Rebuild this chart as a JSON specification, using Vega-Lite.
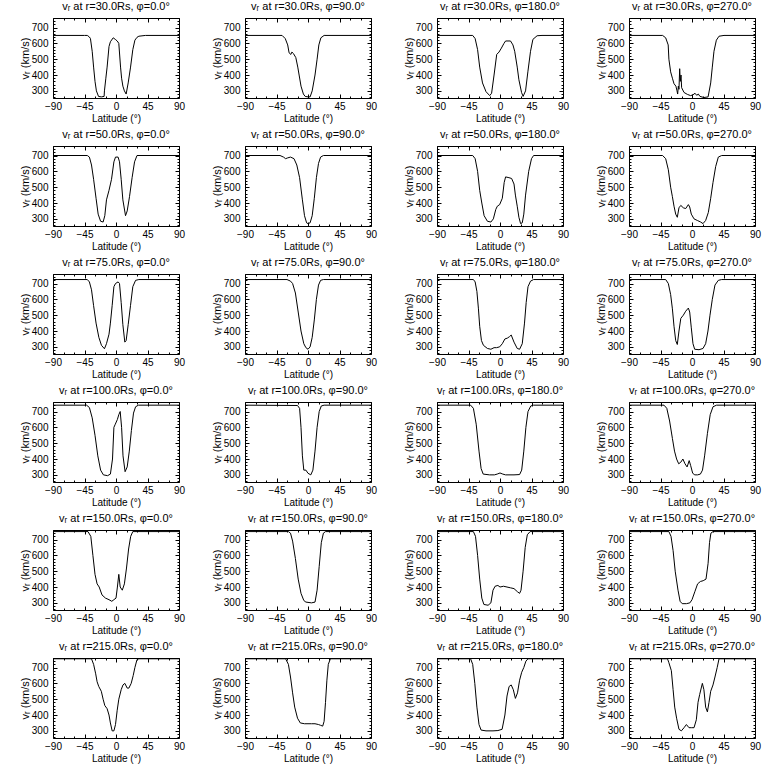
{
"$schema": "https://vega.github.io/schema/vega-lite/v6.json",
"background": "white",
"padding": {"left": 18, "top": 0, "right": 5, "bottom": 5},
"bounds": "flush",
"columns": 4,
"spacing": {"row": 48, "column": 66},
"data": {"values": [
{"p":0,"lat":-90,"v":650},{"p":0,"lat":-45,"v":650},{"p":0,"lat":-41,"v":650},{"p":0,"lat":-38,"v":640},{"p":0,"lat":-36.5,"v":630},{"p":0,"lat":-34,"v":550},{"p":0,"lat":-32,"v":450},{"p":0,"lat":-30,"v":360},{"p":0,"lat":-28,"v":300},{"p":0,"lat":-25,"v":265},{"p":0,"lat":-21,"v":262},{"p":0,"lat":-17,"v":265},{"p":0,"lat":-16.5,"v":300},{"p":0,"lat":-14.5,"v":380},{"p":0,"lat":-12.7,"v":450},{"p":0,"lat":-10,"v":580},{"p":0,"lat":-8,"v":610},{"p":0,"lat":-4,"v":635},{"p":0,"lat":-1,"v":625},{"p":0,"lat":1.7,"v":615},{"p":0,"lat":4,"v":600},{"p":0,"lat":6.5,"v":450},{"p":0,"lat":8,"v":380},{"p":0,"lat":9.8,"v":330},{"p":0,"lat":12,"v":300},{"p":0,"lat":14.5,"v":280},{"p":0,"lat":17.4,"v":350},{"p":0,"lat":20.8,"v":450},{"p":0,"lat":24,"v":560},{"p":0,"lat":27,"v":620},{"p":0,"lat":30,"v":638},{"p":0,"lat":32.7,"v":645},{"p":0,"lat":42,"v":650},{"p":0,"lat":90,"v":650},
{"p":1,"lat":-90,"v":650},{"p":1,"lat":-37,"v":650},{"p":1,"lat":-32.5,"v":630},{"p":1,"lat":-29,"v":590},{"p":1,"lat":-27,"v":540},{"p":1,"lat":-24.5,"v":530},{"p":1,"lat":-23,"v":545},{"p":1,"lat":-20.7,"v":535},{"p":1,"lat":-17.4,"v":510},{"p":1,"lat":-14.6,"v":450},{"p":1,"lat":-12.7,"v":400},{"p":1,"lat":-10,"v":330},{"p":1,"lat":-6.6,"v":280},{"p":1,"lat":-4,"v":265},{"p":1,"lat":0,"v":262},{"p":1,"lat":3,"v":262},{"p":1,"lat":6,"v":300},{"p":1,"lat":10,"v":400},{"p":1,"lat":13,"v":500},{"p":1,"lat":15.5,"v":590},{"p":1,"lat":18.4,"v":635},{"p":1,"lat":23,"v":650},{"p":1,"lat":90,"v":650},
{"p":2,"lat":-90,"v":650},{"p":2,"lat":-39,"v":650},{"p":2,"lat":-35.5,"v":630},{"p":2,"lat":-32,"v":560},{"p":2,"lat":-29,"v":450},{"p":2,"lat":-25,"v":350},{"p":2,"lat":-20,"v":295},{"p":2,"lat":-14.7,"v":270},{"p":2,"lat":-12,"v":285},{"p":2,"lat":-8.5,"v":400},{"p":2,"lat":-4.7,"v":530},{"p":2,"lat":-1.4,"v":545},{"p":2,"lat":2,"v":570},{"p":2,"lat":5.7,"v":600},{"p":2,"lat":8,"v":615},{"p":2,"lat":15,"v":615},{"p":2,"lat":18.5,"v":590},{"p":2,"lat":21,"v":550},{"p":2,"lat":24.6,"v":450},{"p":2,"lat":27,"v":370},{"p":2,"lat":30.8,"v":290},{"p":2,"lat":33,"v":265},{"p":2,"lat":36.5,"v":300},{"p":2,"lat":39.8,"v":420},{"p":2,"lat":43.6,"v":550},{"p":2,"lat":47,"v":625},{"p":2,"lat":53,"v":648},{"p":2,"lat":60,"v":650},{"p":2,"lat":90,"v":650},
{"p":3,"lat":-90,"v":650},{"p":3,"lat":-42,"v":650},{"p":3,"lat":-37.6,"v":635},{"p":3,"lat":-34,"v":590},{"p":3,"lat":-33,"v":500},{"p":3,"lat":-30.5,"v":420},{"p":3,"lat":-28,"v":380},{"p":3,"lat":-25.7,"v":345},{"p":3,"lat":-23,"v":330},{"p":3,"lat":-21.4,"v":300},{"p":3,"lat":-20.5,"v":280},{"p":3,"lat":-19.5,"v":330},{"p":3,"lat":-18.6,"v":310},{"p":3,"lat":-17.6,"v":440},{"p":3,"lat":-16.7,"v":360},{"p":3,"lat":-15.7,"v":400},{"p":3,"lat":-14.8,"v":320},{"p":3,"lat":-11.4,"v":290},{"p":3,"lat":-6.7,"v":278},{"p":3,"lat":-2,"v":270},{"p":3,"lat":1.4,"v":275},{"p":3,"lat":4.3,"v":285},{"p":3,"lat":6.7,"v":272},{"p":3,"lat":9,"v":280},{"p":3,"lat":11.4,"v":265},{"p":3,"lat":17,"v":258},{"p":3,"lat":23,"v":262},{"p":3,"lat":26.7,"v":350},{"p":3,"lat":29,"v":450},{"p":3,"lat":31.4,"v":550},{"p":3,"lat":34.8,"v":620},{"p":3,"lat":38.6,"v":645},{"p":3,"lat":45.7,"v":650},{"p":3,"lat":90,"v":650},
{"p":4,"lat":-90,"v":700},{"p":4,"lat":-41,"v":700},{"p":4,"lat":-38,"v":690},{"p":4,"lat":-35,"v":640},{"p":4,"lat":-32,"v":550},{"p":4,"lat":-28.5,"v":430},{"p":4,"lat":-25.5,"v":330},{"p":4,"lat":-22,"v":285},{"p":4,"lat":-18.4,"v":280},{"p":4,"lat":-16,"v":320},{"p":4,"lat":-13.6,"v":420},{"p":4,"lat":-10,"v":480},{"p":4,"lat":-6.4,"v":550},{"p":4,"lat":-3,"v":660},{"p":4,"lat":-0.7,"v":690},{"p":4,"lat":3,"v":690},{"p":4,"lat":5,"v":660},{"p":4,"lat":7.4,"v":550},{"p":4,"lat":9.8,"v":420},{"p":4,"lat":13.6,"v":320},{"p":4,"lat":16,"v":350},{"p":4,"lat":19.3,"v":440},{"p":4,"lat":23,"v":560},{"p":4,"lat":26.5,"v":660},{"p":4,"lat":30,"v":700},{"p":4,"lat":90,"v":700},
{"p":5,"lat":-90,"v":700},{"p":5,"lat":-40,"v":700},{"p":5,"lat":-35,"v":690},{"p":5,"lat":-32,"v":680},{"p":5,"lat":-29,"v":685},{"p":5,"lat":-25,"v":690},{"p":5,"lat":-20,"v":680},{"p":5,"lat":-16,"v":640},{"p":5,"lat":-12,"v":560},{"p":5,"lat":-8,"v":420},{"p":5,"lat":-5,"v":320},{"p":5,"lat":-2,"v":275},{"p":5,"lat":0,"v":270},{"p":5,"lat":3,"v":275},{"p":5,"lat":6,"v":320},{"p":5,"lat":9,"v":430},{"p":5,"lat":12,"v":560},{"p":5,"lat":15,"v":650},{"p":5,"lat":18,"v":690},{"p":5,"lat":22,"v":700},{"p":5,"lat":90,"v":700},
{"p":6,"lat":-90,"v":700},{"p":6,"lat":-39,"v":700},{"p":6,"lat":-35.5,"v":680},{"p":6,"lat":-32,"v":600},{"p":6,"lat":-29,"v":480},{"p":6,"lat":-26,"v":400},{"p":6,"lat":-22.7,"v":320},{"p":6,"lat":-18,"v":285},{"p":6,"lat":-13,"v":280},{"p":6,"lat":-9.5,"v":300},{"p":6,"lat":-6,"v":360},{"p":6,"lat":-3.8,"v":380},{"p":6,"lat":-0.5,"v":390},{"p":6,"lat":3.3,"v":430},{"p":6,"lat":6,"v":530},{"p":6,"lat":8,"v":565},{"p":6,"lat":12.8,"v":560},{"p":6,"lat":16.6,"v":555},{"p":6,"lat":20,"v":520},{"p":6,"lat":22,"v":450},{"p":6,"lat":24.6,"v":380},{"p":6,"lat":27,"v":310},{"p":6,"lat":29.4,"v":270},{"p":6,"lat":31.8,"v":275},{"p":6,"lat":34,"v":330},{"p":6,"lat":36.5,"v":450},{"p":6,"lat":41,"v":600},{"p":6,"lat":45,"v":680},{"p":6,"lat":48,"v":700},{"p":6,"lat":90,"v":700},
{"p":7,"lat":-90,"v":700},{"p":7,"lat":-42,"v":700},{"p":7,"lat":-37.6,"v":680},{"p":7,"lat":-33.8,"v":610},{"p":7,"lat":-30.5,"v":500},{"p":7,"lat":-28,"v":440},{"p":7,"lat":-25.7,"v":380},{"p":7,"lat":-23.3,"v":330},{"p":7,"lat":-21,"v":310},{"p":7,"lat":-18.6,"v":370},{"p":7,"lat":-16,"v":385},{"p":7,"lat":-12.4,"v":370},{"p":7,"lat":-9,"v":365},{"p":7,"lat":-5.2,"v":390},{"p":7,"lat":-3.3,"v":375},{"p":7,"lat":-1,"v":330},{"p":7,"lat":2.9,"v":300},{"p":7,"lat":7.6,"v":290},{"p":7,"lat":12.4,"v":280},{"p":7,"lat":15.7,"v":270},{"p":7,"lat":19.5,"v":290},{"p":7,"lat":23.3,"v":340},{"p":7,"lat":26.7,"v":430},{"p":7,"lat":30,"v":530},{"p":7,"lat":33.8,"v":630},{"p":7,"lat":37.6,"v":690},{"p":7,"lat":42.4,"v":700},{"p":7,"lat":90,"v":700},
{"p":8,"lat":-90,"v":725},{"p":8,"lat":-41,"v":725},{"p":8,"lat":-38,"v":710},{"p":8,"lat":-35,"v":660},{"p":8,"lat":-32,"v":560},{"p":8,"lat":-28.5,"v":450},{"p":8,"lat":-24.5,"v":360},{"p":8,"lat":-20.8,"v":310},{"p":8,"lat":-16.5,"v":288},{"p":8,"lat":-13.6,"v":320},{"p":8,"lat":-10,"v":380},{"p":8,"lat":-8,"v":450},{"p":8,"lat":-5.5,"v":560},{"p":8,"lat":-3,"v":680},{"p":8,"lat":-0.7,"v":700},{"p":8,"lat":3,"v":710},{"p":8,"lat":5,"v":700},{"p":8,"lat":7.4,"v":580},{"p":8,"lat":9.8,"v":440},{"p":8,"lat":12.6,"v":330},{"p":8,"lat":14.5,"v":340},{"p":8,"lat":17.4,"v":440},{"p":8,"lat":20.7,"v":560},{"p":8,"lat":24,"v":680},{"p":8,"lat":28,"v":720},{"p":8,"lat":32.7,"v":725},{"p":8,"lat":90,"v":725},
{"p":9,"lat":-90,"v":725},{"p":9,"lat":-30,"v":725},{"p":9,"lat":-25,"v":715},{"p":9,"lat":-22,"v":700},{"p":9,"lat":-18,"v":640},{"p":9,"lat":-14,"v":520},{"p":9,"lat":-10,"v":400},{"p":9,"lat":-6,"v":320},{"p":9,"lat":-3,"v":295},{"p":9,"lat":0,"v":285},{"p":9,"lat":3,"v":300},{"p":9,"lat":6,"v":360},{"p":9,"lat":9,"v":470},{"p":9,"lat":12,"v":600},{"p":9,"lat":15,"v":690},{"p":9,"lat":18,"v":720},{"p":9,"lat":22,"v":725},{"p":9,"lat":90,"v":725},
{"p":10,"lat":-90,"v":725},{"p":10,"lat":-38,"v":725},{"p":10,"lat":-35.5,"v":710},{"p":10,"lat":-33,"v":650},{"p":10,"lat":-30.8,"v":540},{"p":10,"lat":-29,"v":430},{"p":10,"lat":-26.5,"v":340},{"p":10,"lat":-23.7,"v":310},{"p":10,"lat":-18,"v":290},{"p":10,"lat":-13,"v":285},{"p":10,"lat":-8.5,"v":295},{"p":10,"lat":-5,"v":295},{"p":10,"lat":-0.5,"v":300},{"p":10,"lat":3.3,"v":320},{"p":10,"lat":7,"v":350},{"p":10,"lat":10.4,"v":355},{"p":10,"lat":13.7,"v":365},{"p":10,"lat":16,"v":375},{"p":10,"lat":20,"v":330},{"p":10,"lat":24.6,"v":290},{"p":10,"lat":28,"v":285},{"p":10,"lat":31.8,"v":320},{"p":10,"lat":35,"v":450},{"p":10,"lat":37.4,"v":580},{"p":10,"lat":40,"v":680},{"p":10,"lat":43.6,"v":715},{"p":10,"lat":48,"v":725},{"p":10,"lat":90,"v":725},
{"p":11,"lat":-90,"v":725},{"p":11,"lat":-37.6,"v":725},{"p":11,"lat":-33.8,"v":700},{"p":11,"lat":-30.5,"v":630},{"p":11,"lat":-28,"v":540},{"p":11,"lat":-25.7,"v":430},{"p":11,"lat":-23.3,"v":340},{"p":11,"lat":-21,"v":315},{"p":11,"lat":-18.6,"v":400},{"p":11,"lat":-16,"v":480},{"p":11,"lat":-12.4,"v":500},{"p":11,"lat":-9,"v":525},{"p":11,"lat":-5.2,"v":545},{"p":11,"lat":-3.3,"v":520},{"p":11,"lat":-1,"v":420},{"p":11,"lat":1.4,"v":320},{"p":11,"lat":3.8,"v":285},{"p":11,"lat":10,"v":282},{"p":11,"lat":15.7,"v":290},{"p":11,"lat":19.5,"v":320},{"p":11,"lat":22.8,"v":400},{"p":11,"lat":25.7,"v":500},{"p":11,"lat":29,"v":600},{"p":11,"lat":32.8,"v":690},{"p":11,"lat":37.6,"v":720},{"p":11,"lat":42.4,"v":725},{"p":11,"lat":90,"v":725},
{"p":12,"lat":-90,"v":740},{"p":12,"lat":-42,"v":740},{"p":12,"lat":-38,"v":725},{"p":12,"lat":-34,"v":660},{"p":12,"lat":-30,"v":550},{"p":12,"lat":-26,"v":420},{"p":12,"lat":-22,"v":330},{"p":12,"lat":-18,"v":300},{"p":12,"lat":-12,"v":295},{"p":12,"lat":-8,"v":305},{"p":12,"lat":-5,"v":400},{"p":12,"lat":-3,"v":600},{"p":12,"lat":-1,"v":620},{"p":12,"lat":2,"v":650},{"p":12,"lat":4,"v":680},{"p":12,"lat":6,"v":700},{"p":12,"lat":8,"v":600},{"p":12,"lat":10,"v":420},{"p":12,"lat":13,"v":320},{"p":12,"lat":16,"v":350},{"p":12,"lat":19,"v":450},{"p":12,"lat":22,"v":580},{"p":12,"lat":25,"v":690},{"p":12,"lat":28,"v":730},{"p":12,"lat":32,"v":740},{"p":12,"lat":90,"v":740},
{"p":13,"lat":-90,"v":740},{"p":13,"lat":-15,"v":738},{"p":13,"lat":-12,"v":720},{"p":13,"lat":-10,"v":600},{"p":13,"lat":-8,"v":420},{"p":13,"lat":-6,"v":330},{"p":13,"lat":-3,"v":330},{"p":13,"lat":0,"v":310},{"p":13,"lat":4,"v":300},{"p":13,"lat":7,"v":330},{"p":13,"lat":10,"v":450},{"p":13,"lat":13,"v":600},{"p":13,"lat":16,"v":700},{"p":13,"lat":19,"v":735},{"p":13,"lat":23,"v":740},{"p":13,"lat":90,"v":740},
{"p":14,"lat":-90,"v":740},{"p":14,"lat":-42,"v":740},{"p":14,"lat":-38,"v":720},{"p":14,"lat":-34,"v":620},{"p":14,"lat":-30,"v":450},{"p":14,"lat":-27,"v":340},{"p":14,"lat":-24,"v":305},{"p":14,"lat":-15,"v":300},{"p":14,"lat":-8,"v":300},{"p":14,"lat":-4,"v":305},{"p":14,"lat":0,"v":312},{"p":14,"lat":4,"v":305},{"p":14,"lat":8,"v":300},{"p":14,"lat":20,"v":300},{"p":14,"lat":28,"v":302},{"p":14,"lat":31,"v":330},{"p":14,"lat":34,"v":450},{"p":14,"lat":37,"v":600},{"p":14,"lat":40,"v":700},{"p":14,"lat":44,"v":735},{"p":14,"lat":48,"v":740},{"p":14,"lat":90,"v":740},
{"p":15,"lat":-90,"v":740},{"p":15,"lat":-40,"v":740},{"p":15,"lat":-36,"v":720},{"p":15,"lat":-32,"v":640},{"p":15,"lat":-28,"v":530},{"p":15,"lat":-25,"v":450},{"p":15,"lat":-22,"v":400},{"p":15,"lat":-19,"v":370},{"p":15,"lat":-16,"v":380},{"p":15,"lat":-13,"v":400},{"p":15,"lat":-10,"v":370},{"p":15,"lat":-7,"v":350},{"p":15,"lat":-4,"v":390},{"p":15,"lat":-2,"v":360},{"p":15,"lat":1,"v":310},{"p":15,"lat":4,"v":300},{"p":15,"lat":8,"v":300},{"p":15,"lat":12,"v":305},{"p":15,"lat":15,"v":330},{"p":15,"lat":18,"v":420},{"p":15,"lat":22,"v":560},{"p":15,"lat":26,"v":680},{"p":15,"lat":30,"v":730},{"p":15,"lat":35,"v":740},{"p":15,"lat":90,"v":740},
{"p":16,"lat":-90,"v":750},{"p":16,"lat":-40,"v":750},{"p":16,"lat":-36,"v":720},{"p":16,"lat":-33,"v":600},{"p":16,"lat":-30,"v":480},{"p":16,"lat":-27,"v":420},{"p":16,"lat":-24,"v":400},{"p":16,"lat":-20,"v":350},{"p":16,"lat":-15,"v":330},{"p":16,"lat":-10,"v":320},{"p":16,"lat":-6,"v":310},{"p":16,"lat":-3,"v":320},{"p":16,"lat":0,"v":330},{"p":16,"lat":2,"v":400},{"p":16,"lat":4,"v":480},{"p":16,"lat":6,"v":400},{"p":16,"lat":9,"v":380},{"p":16,"lat":12,"v":420},{"p":16,"lat":15,"v":520},{"p":16,"lat":18,"v":640},{"p":16,"lat":21,"v":720},{"p":16,"lat":24,"v":750},{"p":16,"lat":90,"v":750},
{"p":17,"lat":-90,"v":750},{"p":17,"lat":-28,"v":750},{"p":17,"lat":-25,"v":740},{"p":17,"lat":-22,"v":690},{"p":17,"lat":-18,"v":580},{"p":17,"lat":-14,"v":450},{"p":17,"lat":-10,"v":360},{"p":17,"lat":-6,"v":315},{"p":17,"lat":-3,"v":305},{"p":17,"lat":5,"v":300},{"p":17,"lat":10,"v":305},{"p":17,"lat":13,"v":380},{"p":17,"lat":16,"v":530},{"p":17,"lat":19,"v":680},{"p":17,"lat":22,"v":740},{"p":17,"lat":25,"v":750},{"p":17,"lat":90,"v":750},
{"p":18,"lat":-90,"v":750},{"p":18,"lat":-38,"v":750},{"p":18,"lat":-35,"v":720},{"p":18,"lat":-32,"v":600},{"p":18,"lat":-29,"v":450},{"p":18,"lat":-26,"v":330},{"p":18,"lat":-23,"v":290},{"p":18,"lat":-17,"v":285},{"p":18,"lat":-13,"v":300},{"p":18,"lat":-10,"v":380},{"p":18,"lat":-7,"v":405},{"p":18,"lat":-3,"v":410},{"p":18,"lat":0,"v":400},{"p":18,"lat":5,"v":405},{"p":18,"lat":10,"v":400},{"p":18,"lat":15,"v":395},{"p":18,"lat":20,"v":390},{"p":18,"lat":25,"v":370},{"p":18,"lat":28,"v":360},{"p":18,"lat":30,"v":380},{"p":18,"lat":33,"v":500},{"p":18,"lat":36,"v":650},{"p":18,"lat":39,"v":730},{"p":18,"lat":43,"v":750},{"p":18,"lat":90,"v":750},
{"p":19,"lat":-90,"v":750},{"p":19,"lat":-33,"v":750},{"p":19,"lat":-30,"v":720},{"p":19,"lat":-27,"v":630},{"p":19,"lat":-24,"v":500},{"p":19,"lat":-20,"v":380},{"p":19,"lat":-17,"v":310},{"p":19,"lat":-14,"v":295},{"p":19,"lat":-8,"v":295},{"p":19,"lat":-3,"v":300},{"p":19,"lat":0,"v":320},{"p":19,"lat":4,"v":370},{"p":19,"lat":8,"v":420},{"p":19,"lat":12,"v":435},{"p":19,"lat":16,"v":440},{"p":19,"lat":20,"v":450},{"p":19,"lat":23,"v":550},{"p":19,"lat":25,"v":680},{"p":19,"lat":27,"v":740},{"p":19,"lat":30,"v":750},{"p":19,"lat":90,"v":750},
{"p":20,"lat":-90,"v":755},{"p":20,"lat":-35,"v":755},{"p":20,"lat":-32,"v":720},{"p":20,"lat":-29,"v":660},{"p":20,"lat":-27,"v":610},{"p":20,"lat":-24.6,"v":580},{"p":20,"lat":-21,"v":550},{"p":20,"lat":-18.4,"v":500},{"p":20,"lat":-16,"v":460},{"p":20,"lat":-12.7,"v":440},{"p":20,"lat":-10,"v":400},{"p":20,"lat":-8,"v":350},{"p":20,"lat":-5.5,"v":300},{"p":20,"lat":-3,"v":300},{"p":20,"lat":-0.7,"v":340},{"p":20,"lat":1.7,"v":430},{"p":20,"lat":4,"v":500},{"p":20,"lat":7.4,"v":560},{"p":20,"lat":10,"v":590},{"p":20,"lat":12.6,"v":600},{"p":20,"lat":16,"v":570},{"p":20,"lat":18.4,"v":570},{"p":20,"lat":21.7,"v":600},{"p":20,"lat":24.6,"v":650},{"p":20,"lat":27,"v":700},{"p":20,"lat":30,"v":750},{"p":20,"lat":32.7,"v":755},{"p":20,"lat":90,"v":755},
{"p":21,"lat":-90,"v":755},{"p":21,"lat":-32,"v":755},{"p":21,"lat":-28,"v":720},{"p":21,"lat":-25,"v":640},{"p":21,"lat":-22,"v":540},{"p":21,"lat":-19,"v":450},{"p":21,"lat":-15,"v":380},{"p":21,"lat":-11,"v":350},{"p":21,"lat":-5,"v":345},{"p":21,"lat":0,"v":345},{"p":21,"lat":5,"v":345},{"p":21,"lat":10,"v":345},{"p":21,"lat":15,"v":340},{"p":21,"lat":18,"v":335},{"p":21,"lat":21,"v":330},{"p":21,"lat":23,"v":360},{"p":21,"lat":25,"v":480},{"p":21,"lat":27,"v":620},{"p":21,"lat":29,"v":720},{"p":21,"lat":32,"v":755},{"p":21,"lat":90,"v":755},
{"p":22,"lat":-90,"v":755},{"p":22,"lat":-42,"v":755},{"p":22,"lat":-39,"v":720},{"p":22,"lat":-36,"v":600},{"p":22,"lat":-33,"v":450},{"p":22,"lat":-30,"v":340},{"p":22,"lat":-27,"v":305},{"p":22,"lat":-20,"v":300},{"p":22,"lat":-10,"v":300},{"p":22,"lat":-3,"v":302},{"p":22,"lat":3,"v":310},{"p":22,"lat":7,"v":400},{"p":22,"lat":10,"v":520},{"p":22,"lat":13,"v":580},{"p":22,"lat":16,"v":590},{"p":22,"lat":19,"v":560},{"p":22,"lat":22,"v":505},{"p":22,"lat":25,"v":540},{"p":22,"lat":28,"v":620},{"p":22,"lat":31,"v":670},{"p":22,"lat":34,"v":700},{"p":22,"lat":37,"v":740},{"p":22,"lat":40,"v":755},{"p":22,"lat":90,"v":755},
{"p":23,"lat":-90,"v":755},{"p":23,"lat":-35,"v":755},{"p":23,"lat":-33,"v":730},{"p":23,"lat":-29.5,"v":680},{"p":23,"lat":-27,"v":560},{"p":23,"lat":-24.7,"v":450},{"p":23,"lat":-22,"v":380},{"p":23,"lat":-18.6,"v":310},{"p":23,"lat":-15.2,"v":300},{"p":23,"lat":-11.4,"v":320},{"p":23,"lat":-8,"v":340},{"p":23,"lat":-4.3,"v":320},{"p":23,"lat":-1,"v":320},{"p":23,"lat":2.9,"v":320},{"p":23,"lat":6.2,"v":370},{"p":23,"lat":8.6,"v":480},{"p":23,"lat":11,"v":530},{"p":23,"lat":14.8,"v":600},{"p":23,"lat":17,"v":560},{"p":23,"lat":19.5,"v":450},{"p":23,"lat":22,"v":420},{"p":23,"lat":24.3,"v":480},{"p":23,"lat":26.7,"v":550},{"p":23,"lat":30,"v":590},{"p":23,"lat":32.8,"v":640},{"p":23,"lat":36,"v":700},{"p":23,"lat":38.6,"v":755},{"p":23,"lat":90,"v":755}
]},
"facet": {
  "field": "p", "type": "ordinal",
  "sort": [0,1,2,3,4,5,6,7,8,9,10,11,12,13,14,15,16,17,18,19,20,21,22,23],
  "header": {
    "title": null,
    "labelExpr": "'vᵣ at r=' + ['30.0','50.0','75.0','100.0','150.0','215.0'][floor(datum.value/4)] + 'Rs, φ=' + ['0.0','90.0','180.0','270.0'][datum.value%4] + '°'",
    "labelFont": "Liberation Sans", "labelFontSize": 11, "labelColor": "black", "labelPadding": 1
  }
},
"resolve": {"axis": {"x": "independent", "y": "independent"}},
"spec": {
  "width": 126, "height": 80,
  "layer": [
    {
      "mark": {"type": "line", "color": "black", "strokeWidth": 1, "clip": true},
      "encoding": {
        "x": {"field": "lat", "type": "quantitative", "scale": {"domain": [-90, 90], "nice": false, "zero": false},
          "axis": {"orient": "bottom", "title": "Latitude (°)", "values": [-90,-75,-60,-45,-30,-15,0,15,30,45,60,75,90],
            "labelExpr": "datum.value % 45 === 0 ? datum.label : ''",
            "tickSize": {"condition": {"test": "datum.value % 45 === 0", "value": -4}, "value": -2},
            "labelPadding": 7.5, "titlePadding": 0}},
        "y": {"field": "v", "type": "quantitative", "scale": {"domain": [255, 760], "nice": false, "zero": false},
          "axis": {"orient": "left", "title": "vᵣ (km/s)", "titleFontSize": 11, "values": [260,280,300,320,340,360,380,400,420,440,460,480,500,520,540,560,580,600,620,640,660,680,700,720,740,760],
            "labelExpr": "datum.value % 100 === 0 ? datum.label : ''",
            "tickSize": {"condition": {"test": "datum.value % 100 === 0", "value": -4}, "value": -2},
            "labelPadding": 9, "titlePadding": 1}}
      }
    },
    {
      "mark": {"type": "line", "color": "black", "strokeOpacity": 0, "clip": true},
      "encoding": {
        "x": {"field": "lat", "type": "quantitative",
          "axis": {"orient": "top", "title": null, "labels": false, "values": [-90,-75,-60,-45,-30,-15,0,15,30,45,60,75,90],
            "tickSize": {"condition": {"test": "datum.value % 45 === 0", "value": -4}, "value": -2}}},
        "y": {"field": "v", "type": "quantitative",
          "axis": {"orient": "right", "title": null, "labels": false, "values": [260,280,300,320,340,360,380,400,420,440,460,480,500,520,540,560,580,600,620,640,660,680,700,720,740,760],
            "tickSize": {"condition": {"test": "datum.value % 100 === 0", "value": -4}, "value": -2}}}
      }
    }
  ],
  "resolve": {"axis": {"x": "independent", "y": "independent"}}
},
"config": {
  "view": {"stroke": "black", "strokeWidth": 1},
  "axis": {"domain": false, "grid": false, "tickColor": "black", "tickWidth": 1,
    "labelFont": "Liberation Sans", "labelFontSize": 10, "labelColor": "black", "labelFlush": false, "labelOverlap": false,
    "titleFont": "Liberation Sans", "titleFontSize": 10, "titleFontWeight": "normal", "titleColor": "black"}
}
}
